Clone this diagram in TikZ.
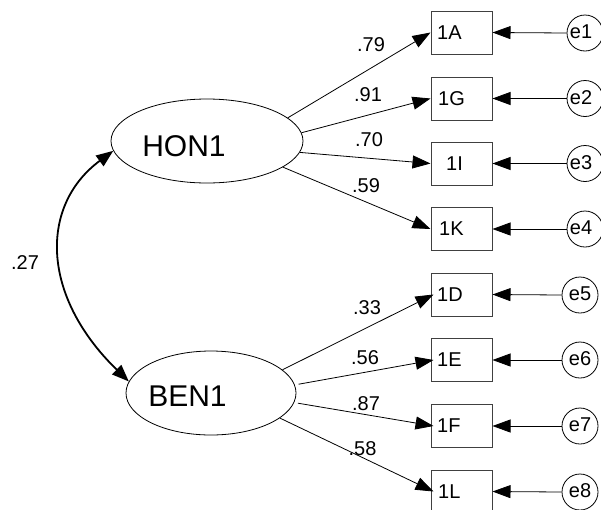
\documentclass[tikz,border=0pt]{standalone}
\usepackage{fontspec}
\setmainfont{Liberation Sans}
\usetikzlibrary{shapes.geometric,arrows.meta}
\begin{document}
\begin{tikzpicture}[x=1pt,y=-1pt,
  lat/.style={draw, ellipse, line width=0.8pt, inner sep=0pt, minimum height=84pt},
  obs/.style={draw=black!75, rectangle, line width=1pt, minimum width=61pt, minimum height=43pt, inner sep=0pt},
  err/.style={draw, circle, line width=0.8pt, minimum size=36pt, inner sep=0pt},
  big/.style={font=\fontsize{30}{36}\selectfont, inner sep=0pt},
  txt/.style={font=\fontsize{20}{24}\selectfont, inner sep=0pt},
  btxt/.style={txt, anchor=west},
  load/.style={line width=0.8pt, -{Triangle[length=18pt,width=13pt]}},
  cov/.style={line width=1.8pt, {Triangle[length=17pt,width=13pt]}-{Triangle[length=17pt,width=13pt]}},
]
\useasboundingbox (0,0) rectangle (601,509);

% latent variables
\node[lat, minimum width=192pt] (hon) at (207,141) {};
\node[big] (honT) at (184,146) {HON1};
\node[lat, minimum width=170pt] (ben) at (211,393) {};
\node[big] (benT) at (187.5,396.5) {BEN1};

% observed boxes
\node[obs] (bA) at (461.5,32.5) {};
\node[obs] (bG) at (461.5,98.5) {};
\node[obs] (bI) at (461.5,163.5) {};
\node[obs] (bK) at (461.5,229) {};
\node[obs] (bD) at (461.5,294.5) {};
\node[obs] (bE) at (461.5,360) {};
\node[obs] (bF) at (461.5,426) {};
\node[obs] (bL) at (461.5,491.5) {};
\node[btxt] (tA) at (437,32.5) {1A};
\node[btxt] (tG) at (438,98.5) {1G};
\node[btxt] (tI) at (446,163.5) {1I};
\node[btxt] (tK) at (439,229) {1K};
\node[btxt] (tD) at (437,294.5) {1D};
\node[btxt] (tE) at (437,360) {1E};
\node[btxt] (tF) at (437,426) {1F};
\node[btxt] (tL) at (438,491.5) {1L};

% error circles
\node[err] (e1) at (585,33) {};
\node[err] (e2) at (585,98.5) {};
\node[err] (e3) at (585,163.5) {};
\node[err] (e4) at (585,229) {};
\node[err] (e5) at (580,295) {};
\node[err] (e6) at (580,360) {};
\node[err] (e7) at (580,426) {};
\node[err] (e8) at (580,492) {};
\node[txt] (te1) at (581,32) {e1};
\node[txt] (te2) at (581,97.5) {e2};
\node[txt] (te3) at (581,162.5) {e3};
\node[txt] (te4) at (581,228) {e4};
\node[txt] (te5) at (580,294) {e5};
\node[txt] (te6) at (580,359) {e6};
\node[txt] (te7) at (580,425) {e7};
\node[txt] (te8) at (580,491) {e8};

% loadings
\draw[load] (hon.16) -- (bA.west);
\draw[load] (hon.5) -- (bG.west);
\draw[load] (hon.353) -- (bI.west);
\draw[load] (hon.341) -- (bK.west);
\draw[load] (ben.18) -- ([xshift=3pt]bD.west);
\draw[load] ([xshift=4pt]ben.6) -- ([xshift=3pt]bE.west);
\draw[load] ([xshift=4pt]ben.353) -- ([xshift=3pt]bF.west);
\draw[load] (ben.340) -- ([xshift=3pt]bL.west);

% error arrows
\draw[load] (e1.west) -- (bA.east);
\draw[load] (e2.west) -- (bG.east);
\draw[load] (e3.west) -- (bI.east);
\draw[load] (e4.west) -- (bK.east);
\draw[load] (e5.west) -- (bD.east);
\draw[load] (e6.west) -- (bE.east);
\draw[load] (e7.west) -- (bF.east);
\draw[load] (e8.west) -- (bL.east);

% covariance
\draw[cov] (hon.186) .. controls (40,205) and (40,295) .. (ben.172);

% labels
\node[txt] (l1) at (371,44.5) {.79};
\node[txt] (l2) at (368,95) {.91};
\node[txt] (l3) at (369,140) {.70};
\node[txt] (l4) at (366,185.5) {.59};
\node[txt] (l5) at (367,307.5) {.33};
\node[txt] (l6) at (365,357.5) {.56};
\node[txt] (l7) at (366,403.5) {.87};
\node[txt] (l8) at (362.5,448.5) {.58};
\node[txt] (lc) at (25,263) {.27};
\end{tikzpicture}
\end{document}
